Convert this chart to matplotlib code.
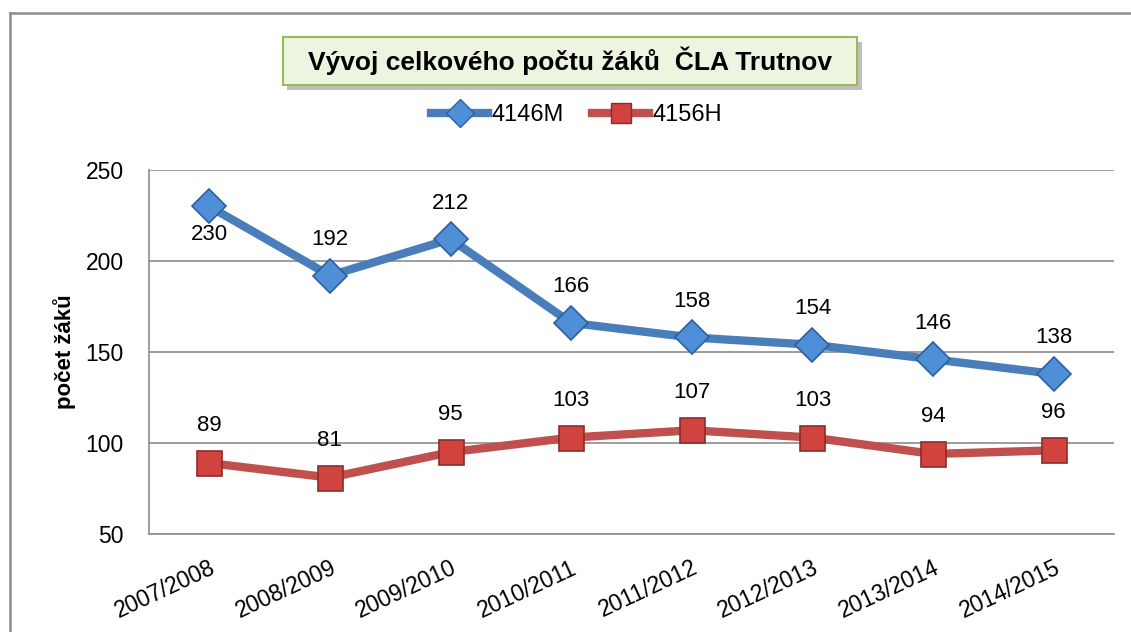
import matplotlib
matplotlib.use('Agg')
import matplotlib.pyplot as plt
from matplotlib.patches import Rectangle
from matplotlib.lines import Line2D

plt.rcParams['font.family'] = ['Liberation Sans', 'DejaVu Sans']

years = ['2007/2008', '2008/2009', '2009/2010', '2010/2011',
         '2011/2012', '2012/2013', '2013/2014', '2014/2015']
m4146 = [230, 192, 212, 166, 158, 154, 146, 138]
h4156 = [89, 81, 95, 103, 107, 103, 94, 96]

blue = '#4A7EBB'
red = '#C0504D'

fig = plt.figure(figsize=(11.31, 6.32), dpi=100)
ax = fig.add_axes([0.1317, 0.155, 0.8533, 0.576])

x = list(range(len(years)))
ax.plot(x, m4146, color=blue, lw=6, marker='D', ms=17,
        mfc='#4F8FD8', mec='#2C5F9E', mew=1.2, solid_capstyle='round', zorder=3)
ax.plot(x, h4156, color=red, lw=6, marker='s', ms=18,
        mfc='#D0433F', mec='#8C2B28', mew=1.2, solid_capstyle='round', zorder=3)

for i, v in enumerate(m4146):
    off = -20 if i == 0 else 26
    ax.annotate(str(v), (i, v), xytext=(0, off), textcoords='offset points',
                ha='center', va='center', fontsize=16)
for i, v in enumerate(h4156):
    ax.annotate(str(v), (i, v), xytext=(0, 27), textcoords='offset points',
                ha='center', va='center', fontsize=16)

ax.set_xlim(-0.5, 7.5)
ax.set_ylim(50, 250)
ax.set_yticks([50, 100, 150, 200, 250])
ax.set_xticks(x)
ax.set_xticklabels(years, rotation=25, ha='right', rotation_mode='anchor', fontsize=16.5)
ax.tick_params(axis='y', labelsize=16.5, length=0, pad=18)
ax.tick_params(axis='x', length=0, pad=16)
ax.grid(axis='y', color='#8C8C8C', lw=1.2)
ax.set_axisbelow(True)
for s in ['top', 'right']:
    ax.spines[s].set_visible(False)
for s in ['left', 'bottom']:
    ax.spines[s].set_color('#8C8C8C')
    ax.spines[s].set_linewidth(1.2)
ax.set_ylabel('počet žáků', fontsize=16, fontweight='bold', labelpad=7)

# outer frame (left and top edges only visible)
fig.lines.append(Line2D([0.009, 0.009], [0, 0.979], transform=fig.transFigure,
                        color='#8C8C8C', lw=1.8))
fig.lines.append(Line2D([0.009, 1.0], [0.979, 0.979], transform=fig.transFigure,
                        color='#8C8C8C', lw=1.8))

# title box with shadow
fig.patches.append(Rectangle((0.254, 0.858), 0.508, 0.076, transform=fig.transFigure,
                             fc='#BFBFBF', ec='none', zorder=1))
fig.patches.append(Rectangle((0.250, 0.866), 0.508, 0.076, transform=fig.transFigure,
                             fc='#EDF4DF', ec='#9BBB59', lw=1.5, zorder=2))
fig.text(0.504, 0.904, 'Vývoj celkového počtu žáků  ČLA Trutnov', ha='center', va='center',
         fontsize=19, fontweight='bold', zorder=3)

handles = [Line2D([], [], color=blue, lw=6, marker='D', ms=14, mfc='#4F8FD8', mec='#2C5F9E'),
           Line2D([], [], color=red, lw=6, marker='s', ms=15, mfc='#D0433F', mec='#8C2B28')]
fig.legend(handles, ['4146M', '4156H'], loc='center', bbox_to_anchor=(0.51, 0.818),
           ncol=2, frameon=False, fontsize=17, handlelength=2.4, handletextpad=0.15,
           columnspacing=1.2)

fig.savefig('out.png', dpi=100)
